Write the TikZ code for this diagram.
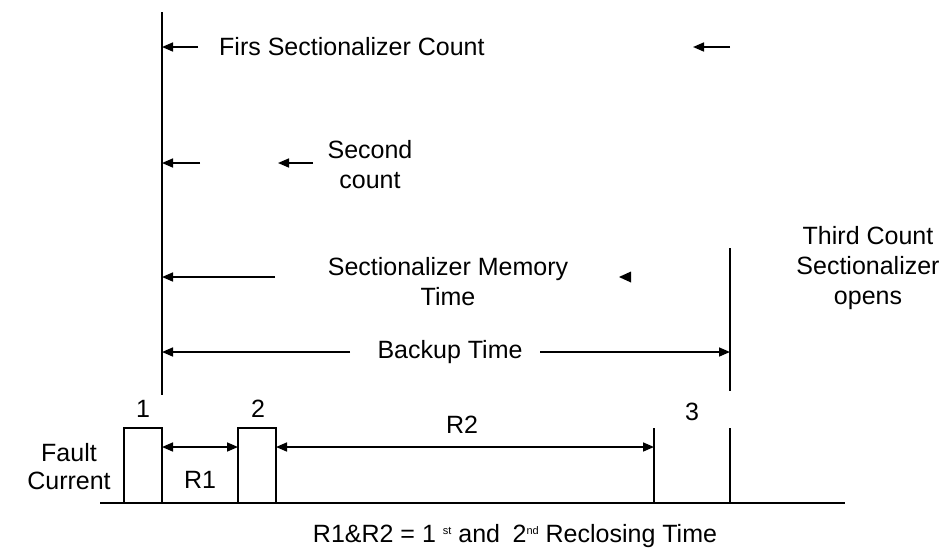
\documentclass[tikz,border=0pt]{standalone}
\usepackage{fontspec}
\setmainfont{Liberation Sans}
\usetikzlibrary{arrows.meta}
\begin{document}
\begin{tikzpicture}[x=1pt,y=-1pt,
  lbl/.style={font=\fontsize{25}{30}\selectfont, inner sep=0pt, align=center},
  ln/.style={line width=2pt, black},
  base/.style={line width=2.4pt, black},
  arr/.style={line width=1.6pt, -{Triangle[length=11pt,width=9pt]}},
  darr/.style={line width=1.6pt, {Triangle[length=11pt,width=9pt]}-{Triangle[length=11pt,width=9pt]}}]
\useasboundingbox (0,0) rectangle (945,555);
% main lines
\coordinate (mtop) at (162,12);
\coordinate (mbot) at (162,395);
\draw[ln] (mtop) -- (mbot);
\coordinate (rtop) at (730,248);
\coordinate (rbot) at (730,391);
\draw[ln] (rtop) -- (rbot);
% baseline and pulses
\coordinate (bl) at (100,503);
\coordinate (br) at (845,503);
\draw[base] (bl) -- (br);
\coordinate (p1a) at (124,503); \coordinate (p1b) at (124,428);
\coordinate (p1c) at (162,428); \coordinate (p1d) at (162,503);
\draw[ln] (p1a) -- (p1b) -- (p1c) -- (p1d);
\coordinate (p2a) at (238,503); \coordinate (p2b) at (238,428);
\coordinate (p2c) at (276,428); \coordinate (p2d) at (276,503);
\draw[ln] (p2a) -- (p2b) -- (p2c) -- (p2d);
\coordinate (p3a) at (654,503); \coordinate (p3b) at (654,428);
\draw[ln] (p3a) -- (p3b);
\coordinate (p3c) at (730,503); \coordinate (p3d) at (730,428);
\draw[ln] (p3c) -- (p3d);
% labels
\node[lbl, anchor=west] (first) at (219,47) {Firs Sectionalizer Count};
\coordinate (f1s) at (198,47); \coordinate (f1e) at (162,47);
\draw[arr] (f1s) -- (f1e);
\coordinate (f2s) at (730,47); \coordinate (f2e) at (693,47);
\draw[arr] (f2s) -- (f2e);
\node[lbl] (second) at (370,164.5) {Second\\count};
\coordinate (s1s) at (200,163); \coordinate (s1e) at (162,163);
\draw[arr] (s1s) -- (s1e);
\coordinate (s2s) at (313,163); \coordinate (s2e) at (278,163);
\draw[arr] (s2s) -- (s2e);
\node[lbl] (memory) at (448,282) {Sectionalizer Memory\\Time};
\coordinate (m1s) at (275,277); \coordinate (m1e) at (162,277);
\draw[arr] (m1s) -- (m1e);
\coordinate (lh) at (619,277);
\fill (lh) -- ++(12,-5.5) -- ++(0,11) -- cycle;
\node[lbl] (backup) at (450,352) {Backup Time};
\coordinate (b1s) at (350,352); \coordinate (b1e) at (162,352);
\draw[arr] (b1s) -- (b1e);
\coordinate (b2s) at (540,352); \coordinate (b2e) at (730,352);
\draw[arr] (b2s) -- (b2e);
\node[lbl] (third) at (868,268) {Third Count\\Sectionalizer\\opens};
\node[lbl] (n1) at (143,409) {1};
\node[lbl] (n2) at (258,409) {2};
\node[lbl] (n3) at (692,412) {3};
\node[lbl] (r2) at (462,425) {R2};
\node[lbl] (r1) at (200,480) {R1};
\node[lbl, font=\fontsize{25}{28}\selectfont] (fault) at (69,467) {Fault\\Current};
\draw[darr] (p1c |- 0,447) -- (p2b |- 0,447);
\draw[darr] (p2c |- 0,447) -- (p3b |- 0,447);
\node[lbl] (note) at (515,536) {R1\&R2 = 1 \raisebox{8pt}{\fontsize{11}{12}\selectfont st} and\enspace 2\raisebox{8pt}{\fontsize{11}{12}\selectfont nd} Reclosing Time};
\end{tikzpicture}
\end{document}
